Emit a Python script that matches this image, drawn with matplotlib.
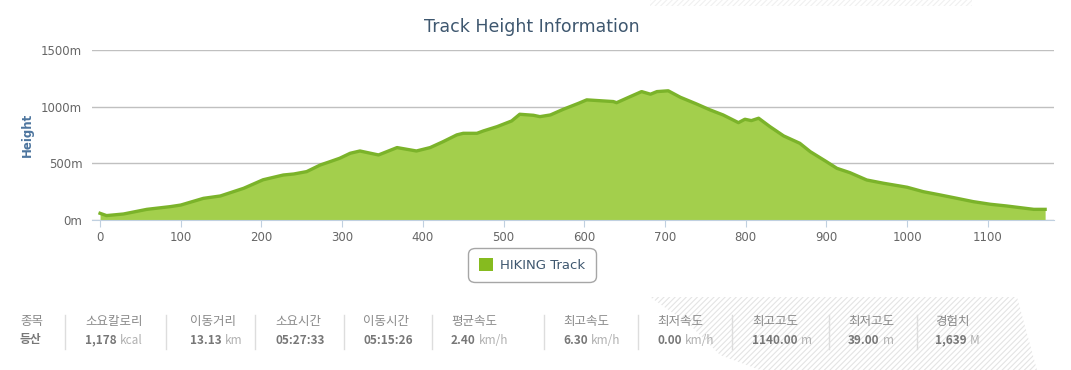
import matplotlib.pyplot as plt
from matplotlib.patches import Patch, Polygon

# elevation profile
dist = [0, 8, 29, 58, 87, 100, 128, 149, 178, 202, 227, 240, 256, 273, 285, 297,
        310, 322, 345, 368, 392, 409, 425, 442, 450, 467, 475, 492, 510, 520, 537,
        545, 558, 574, 593, 603, 636, 640, 657, 671, 682, 690, 704, 719, 739, 756,
        772, 791, 799, 807, 816, 830, 847, 867, 880, 900, 913, 929, 950, 971, 991,
        1000, 1020, 1041, 1062, 1082, 1103, 1123, 1140, 1157, 1171]
height = [59, 39, 53, 94, 118, 132, 191, 212, 280, 355, 397, 406, 427, 486, 515, 545,
          589, 609, 574, 639, 609, 639, 691, 751, 765, 765, 786, 824, 874, 933, 924,
          912, 927, 977, 1030, 1060, 1045, 1035, 1089, 1133, 1110, 1133, 1140, 1083,
          1024, 971, 927, 859, 889, 877, 898, 824, 742, 677, 603, 515, 456, 418, 353,
          324, 300, 289, 250, 221, 191, 162, 139, 124, 109, 94, 94]

y_ticks = [0, 500, 1000, 1500]
x_ticks = list(range(0, 1200, 100))

stat_labels = ['종목', '소요칼로리', '이동거리', '소요시간', '이동시간', '평균속도',
               '최고속도', '최저속도', '최고고도', '최저고도', '경험치']
stat_values = ['등산', '1,178', '13.13', '05:27:33', '05:15:26', '2.40',
               '6.30', '0.00', '1140.00', '39.00', '1,639']
stat_units = ['', 'kcal', 'km', '', '', 'km/h', 'km/h', 'km/h', 'm', 'm', 'M']

W, H = 1071, 370
fig = plt.figure(figsize=(W / 100, H / 100), dpi=100)
ax = fig.add_axes([92 / W, 1 - 220 / H, (1054 - 92) / W, 170 / H])

fill_c = '#a3cf4c'
line_c = '#7bb32a'
ax.fill_between(dist, height, 0, color=fill_c, lw=0, zorder=2)
ax.plot(dist, height, color=line_c, lw=2.4, solid_joinstyle='round', zorder=3)

ax.set_xlim(-10, 1182)
ax.set_ylim(0, 1500)
ax.set_yticks(y_ticks)
ax.set_yticklabels([f'{v}m' for v in y_ticks])
ax.set_xticks(x_ticks)
ax.grid(axis='y', color='#c0c0c0', lw=1, zorder=1)
ax.set_axisbelow(True)
for s in ['top', 'right', 'left']:
    ax.spines[s].set_visible(False)
ax.spines['bottom'].set_color('#c0d0e0')
ax.tick_params(axis='y', length=0, pad=7, labelsize=8.5, labelcolor='#666666')
ax.tick_params(axis='x', length=5, color='#c0d0e0', pad=3, labelsize=8.5,
               labelcolor='#666666')

fig.text(532 / W, 1 - 27 / H, 'Track Height Information', ha='center', va='center',
         fontsize=12.5, color='#3e576f')
fig.text(27 / W, 1 - 135 / H, 'Height', rotation=90, ha='center', va='center',
         fontsize=8.5, fontweight='bold', color='#4d759e')

leg = ax.legend(handles=[Patch(facecolor='#86bb1f', edgecolor='none', label='HIKING Track')],
                loc='center', bbox_to_anchor=(532 / W, 1 - 265 / H),
                bbox_transform=fig.transFigure, fancybox=True, frameon=True,
                fontsize=9.5, handlelength=1.1, handleheight=1.1, borderpad=0.6,
                handletextpad=0.5)
leg.get_frame().set_edgecolor('#909090')
leg.get_frame().set_linewidth(1)
leg.get_frame().set_boxstyle('round,pad=0.2,rounding_size=0.5')
for t in leg.get_texts():
    t.set_color('#3e576f')

# hatched backdrop behind the stats
plt.rcParams['hatch.color'] = '#e4e4e4'
plt.rcParams['hatch.linewidth'] = 0.8
bx = [650, 1017, 1037, 760, 720, 690]
by = [297, 297, 370, 370, 355, 325]
fig.add_artist(Polygon([(x / W, 1 - y / H) for x, y in zip(bx, by)], closed=True,
                       transform=fig.transFigure, facecolor='none', edgecolor='#e4e4e4',
                       lw=0, hatch='//////', zorder=0))
fig.add_artist(Polygon([(650 / W, 1.0), (972 / W, 1.0), (972 / W, 1 - 6 / H), (650 / W, 1 - 6 / H)],
                       closed=True, transform=fig.transFigure, facecolor='none',
                       edgecolor='#f0f0f0', lw=0, hatch='//////', zorder=0))

kr = ['Noto Sans CJK KR', 'DejaVu Sans']
label_x = [20, 85, 190, 275, 363, 451, 563, 657, 752, 848, 935]
sep_x = [65, 166, 255, 344, 432, 544, 638, 732, 829, 917]
for x, lab, val, unit in zip(label_x, stat_labels, stat_values, stat_units):
    fig.text(x / W, 1 - 321 / H, lab, family=kr, fontsize=9, color='#8a8a8a',
             ha='left', va='center')
    t = fig.text(x / W, 1 - 340 / H, val, family=kr, fontsize=8.5, fontweight='bold',
                 color='#777777', ha='left', va='center')
    if unit:
        ax.annotate(unit, xy=(1, 0.5), xycoords=t, xytext=(2.5, 0),
                    textcoords='offset points', family=kr, fontsize=8.5,
                    color='#b0b0b0', ha='left', va='center', annotation_clip=False)
for x in sep_x:
    fig.add_artist(plt.Line2D([x / W, x / W], [1 - 315 / H, 1 - 349 / H],
                              transform=fig.transFigure, color='#dddddd', lw=1))

fig.savefig('out.png', dpi=100)
